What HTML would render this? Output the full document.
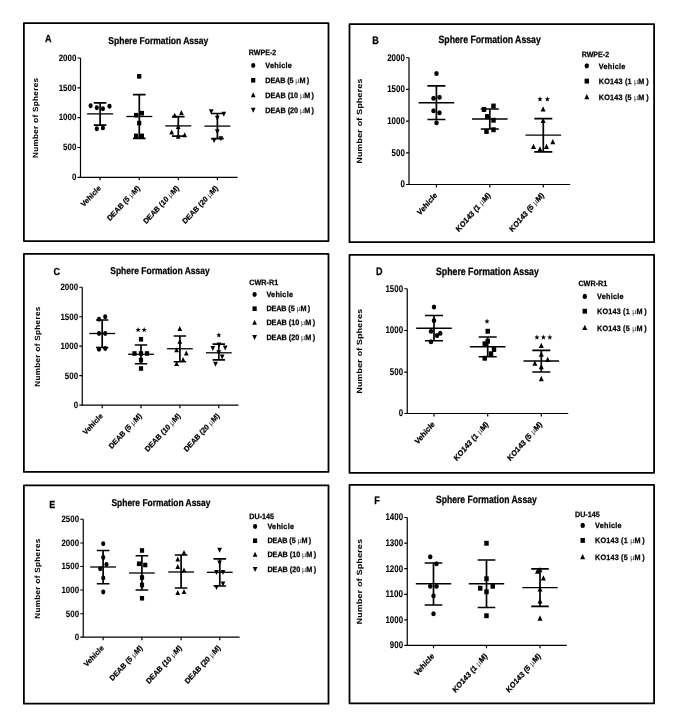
<!DOCTYPE html>
<html><head><meta charset="utf-8"><title>Sphere Formation Assay</title>
<style>
html,body{margin:0;padding:0;background:#fff;}
body{width:685px;height:726px;overflow:hidden;}
svg{display:block;font-family:"Liberation Sans", sans-serif;text-rendering:geometricPrecision;filter:grayscale(1);}
text{stroke:#000;stroke-width:0.25px;}
text.n{stroke-width:0.08px;}
text.y{stroke-width:0.05px;}
.mu{stroke-width:0;fill:#333;}
</style></head>
<body>
<svg width="685" height="726" viewBox="0 0 685 726" fill="#000">
<rect width="685" height="726" fill="#fff"/>
<rect x="23.9" y="23.1" width="304.6" height="218" fill="none" stroke="#000" stroke-width="1.8" stroke-linejoin="round"/>
<text transform="translate(45 42.4) scale(0.89 1)" font-size="10.2" font-weight="bold">A</text>
<text transform="translate(108.3 43.7) scale(0.93 1)" font-size="9.9" font-weight="bold" textLength="107.53" lengthAdjust="spacingAndGlyphs">Sphere Formation Assay</text>
<text class="y" transform="translate(37.8 118) scale(0.93 1) rotate(-90)" font-size="8.1" font-weight="bold" text-anchor="middle" textLength="80" lengthAdjust="spacing">Number of Spheres</text>
<path d="M80.5 58V177.3H237.5" fill="none" stroke="#000" stroke-width="1.2"/>
<text class="n" transform="translate(76.3 60.8) scale(0.93 1)" font-size="9.2" font-weight="bold" text-anchor="end" textLength="18.92" lengthAdjust="spacingAndGlyphs">2000</text>
<text class="n" transform="translate(76.3 90.6) scale(0.93 1)" font-size="9.2" font-weight="bold" text-anchor="end" textLength="18.92" lengthAdjust="spacingAndGlyphs">1500</text>
<text class="n" transform="translate(76.3 120.4) scale(0.93 1)" font-size="9.2" font-weight="bold" text-anchor="end" textLength="18.92" lengthAdjust="spacingAndGlyphs">1000</text>
<text class="n" transform="translate(76.3 150.3) scale(0.93 1)" font-size="9.2" font-weight="bold" text-anchor="end" textLength="14.19" lengthAdjust="spacingAndGlyphs">500</text>
<text class="n" transform="translate(76.3 180.1) scale(0.93 1)" font-size="9.2" font-weight="bold" text-anchor="end" textLength="4.73" lengthAdjust="spacingAndGlyphs">0</text>
<path d="M77.5 58H80.5M77.5 87.8H80.5M77.5 117.6H80.5M77.5 147.5H80.5M77.5 177.3H80.5M100.1 177.3V180.3M139.3 177.3V180.3M178.3 177.3V180.3M217.4 177.3V180.3" fill="none" stroke="#000" stroke-width="1.2"/>
<text transform="translate(101.2 188.6) scale(0.93 1) rotate(-45)" font-size="7.7" font-weight="bold" text-anchor="end">Vehicle</text>
<text transform="translate(140.4 188.6) scale(0.93 1) rotate(-45)" font-size="7.7" font-weight="bold" text-anchor="end">DEAB (5 <tspan font-weight="normal" class="mu">µ</tspan>M)</text>
<text transform="translate(179.4 188.6) scale(0.93 1) rotate(-45)" font-size="7.7" font-weight="bold" text-anchor="end">DEAB (10 <tspan font-weight="normal" class="mu">µ</tspan>M)</text>
<text transform="translate(218.5 188.6) scale(0.93 1) rotate(-45)" font-size="7.7" font-weight="bold" text-anchor="end">DEAB (20 <tspan font-weight="normal" class="mu">µ</tspan>M)</text>
<path d="M87.1 113.9H113.1" stroke="#000" stroke-width="1.3" fill="none"/>
<path d="M93.8 102.9H106.4M93.8 125.1H106.4M100.1 102.9V125.1" stroke="#000" stroke-width="1.7" fill="none"/>
<ellipse cx="90.6" cy="105.7" rx="2.1" ry="2.45"/>
<ellipse cx="96.8" cy="107.8" rx="2.1" ry="2.45"/>
<ellipse cx="102.9" cy="108.8" rx="2.1" ry="2.45"/>
<ellipse cx="109.5" cy="106.2" rx="2.1" ry="2.45"/>
<ellipse cx="96.8" cy="128.7" rx="2.1" ry="2.45"/>
<ellipse cx="102.9" cy="127.9" rx="2.1" ry="2.45"/>
<path d="M126.3 116.5H152.3" stroke="#000" stroke-width="1.3" fill="none"/>
<path d="M133 94.7H145.6M133 138.4H145.6M139.3 94.7V138.4" stroke="#000" stroke-width="1.7" fill="none"/>
<rect x="137.1" y="74" width="4.2" height="4.6"/>
<rect x="134" y="112.9" width="4.2" height="4.6"/>
<rect x="139.8" y="110.9" width="4.2" height="4.6"/>
<rect x="137.1" y="120.8" width="4.2" height="4.6"/>
<rect x="134" y="133.6" width="4.2" height="4.6"/>
<rect x="139.8" y="133.6" width="4.2" height="4.6"/>
<path d="M165.3 125.9H191.3" stroke="#000" stroke-width="1.3" fill="none"/>
<path d="M172 116.7H184.6M172 136.2H184.6M178.3 116.7V136.2" stroke="#000" stroke-width="1.7" fill="none"/>
<path d="M174.7 112.8L177.05 117.8L172.35 117.8Z"/>
<path d="M181.4 110.1L183.75 115.1L179.05 115.1Z"/>
<path d="M178.2 123.9L180.55 128.9L175.85 128.9Z"/>
<path d="M171.7 129.5L174.05 134.5L169.35 134.5Z"/>
<path d="M184.7 132.2L187.05 137.2L182.35 137.2Z"/>
<path d="M178.2 133.8L180.55 138.8L175.85 138.8Z"/>
<path d="M204.4 126.1H230.4" stroke="#000" stroke-width="1.3" fill="none"/>
<path d="M211.1 113.5H223.7M211.1 138.7H223.7M217.4 113.5V138.7" stroke="#000" stroke-width="1.7" fill="none"/>
<path d="M211.2 114.2L213.55 109.2L208.85 109.2Z"/>
<path d="M223.8 116.7L226.15 111.7L221.45 111.7Z"/>
<path d="M217.3 120.7L219.65 115.7L214.95 115.7Z"/>
<path d="M217.3 134.2L219.65 129.2L214.95 129.2Z"/>
<path d="M214.1 143.1L216.45 138.1L211.75 138.1Z"/>
<path d="M220.9 141.3L223.25 136.3L218.55 136.3Z"/>
<text transform="translate(248.8 55.4) scale(0.93 1)" font-size="7.7" font-weight="bold" textLength="29.46" lengthAdjust="spacingAndGlyphs">RWPE-2</text>
<ellipse cx="253.2" cy="65.5" rx="2.1" ry="2.45"/>
<text transform="translate(265.3 68.2) scale(0.93 1)" font-size="7.8" font-weight="bold" textLength="28.6" lengthAdjust="spacing">Vehicle</text>
<rect x="251.1" y="78" width="4.2" height="4.6"/>
<text transform="translate(265.3 83) scale(0.93 1)" font-size="7.8" font-weight="bold" textLength="47.1" lengthAdjust="spacing">DEAB (5 <tspan font-weight="normal" class="mu">µ</tspan>M )</text>
<path d="M253.2 92.2L255.55 97.2L250.85 97.2Z"/>
<text transform="translate(265.3 97.8) scale(0.93 1)" font-size="7.8" font-weight="bold" textLength="52.37" lengthAdjust="spacing">DEAB (10 <tspan font-weight="normal" class="mu">µ</tspan>M )</text>
<path d="M253.2 112.7L255.55 107.7L250.85 107.7Z"/>
<text transform="translate(265.3 112.5) scale(0.93 1)" font-size="7.8" font-weight="bold" textLength="52.37" lengthAdjust="spacing">DEAB (20 <tspan font-weight="normal" class="mu">µ</tspan>M )</text>
<rect x="349.5" y="24.2" width="304.6" height="218" fill="none" stroke="#000" stroke-width="1.8" stroke-linejoin="round"/>
<text transform="translate(372.15 44) scale(0.89 1.06)" font-size="10.2" font-weight="bold">B</text>
<text transform="translate(438.5 42.75) scale(0.93 1.06)" font-size="9.9" font-weight="bold" textLength="110" lengthAdjust="spacingAndGlyphs">Sphere Formation Assay</text>
<text class="y" transform="translate(361.9 121.1) scale(0.93 1.06) rotate(-90)" font-size="8.1" font-weight="bold" text-anchor="middle" textLength="80.19" lengthAdjust="spacing">Number of Spheres</text>
<path d="M409 57.75V184.5H570.2" fill="none" stroke="#000" stroke-width="1.2"/>
<text class="n" transform="translate(404.8 60.73) scale(0.93 1.06)" font-size="9.2" font-weight="bold" text-anchor="end" textLength="18.92" lengthAdjust="spacingAndGlyphs">2000</text>
<text class="n" transform="translate(404.8 92.38) scale(0.93 1.06)" font-size="9.2" font-weight="bold" text-anchor="end" textLength="18.92" lengthAdjust="spacingAndGlyphs">1500</text>
<text class="n" transform="translate(404.8 124.08) scale(0.93 1.06)" font-size="9.2" font-weight="bold" text-anchor="end" textLength="18.92" lengthAdjust="spacingAndGlyphs">1000</text>
<text class="n" transform="translate(404.8 155.78) scale(0.93 1.06)" font-size="9.2" font-weight="bold" text-anchor="end" textLength="14.19" lengthAdjust="spacingAndGlyphs">500</text>
<text class="n" transform="translate(404.8 187.48) scale(0.93 1.06)" font-size="9.2" font-weight="bold" text-anchor="end" textLength="4.73" lengthAdjust="spacingAndGlyphs">0</text>
<path d="M406 57.75H409M406 89.4H409M406 121.1H409M406 152.8H409M406 184.5H409M436.4 184.5V187.5M489.8 184.5V187.5M543.3 184.5V187.5" fill="none" stroke="#000" stroke-width="1.2"/>
<text transform="translate(437.5 195.8) scale(0.93 1.06) rotate(-45)" font-size="7.7" font-weight="bold" text-anchor="end">Vehicle</text>
<text transform="translate(490.9 195.8) scale(0.93 1.06) rotate(-45)" font-size="7.7" font-weight="bold" text-anchor="end">KO143 (1 <tspan font-weight="normal" class="mu">µ</tspan>M)</text>
<text transform="translate(544.4 195.8) scale(0.93 1.06) rotate(-45)" font-size="7.7" font-weight="bold" text-anchor="end">KO143 (5 <tspan font-weight="normal" class="mu">µ</tspan>M)</text>
<path d="M418.6 102.75H454.2" stroke="#000" stroke-width="1.3" fill="none"/>
<path d="M427.4 85.9H445.4M427.4 119.5H445.4M436.4 85.9V119.5" stroke="#000" stroke-width="1.7" fill="none"/>
<ellipse cx="436.5" cy="73.5" rx="2.23" ry="2.6"/>
<ellipse cx="433.5" cy="98.25" rx="2.23" ry="2.6"/>
<ellipse cx="439.5" cy="97.25" rx="2.23" ry="2.6"/>
<ellipse cx="433.5" cy="110.75" rx="2.23" ry="2.6"/>
<ellipse cx="439.5" cy="112.75" rx="2.23" ry="2.6"/>
<ellipse cx="436.5" cy="122.75" rx="2.23" ry="2.6"/>
<path d="M472 119H507.6" stroke="#000" stroke-width="1.3" fill="none"/>
<path d="M480.8 109H498.8M480.8 129H498.8M489.8 109V129" stroke="#000" stroke-width="1.7" fill="none"/>
<rect x="481.77" y="107.06" width="4.45" height="4.88"/>
<rect x="491.27" y="103.56" width="4.45" height="4.88"/>
<rect x="485.02" y="114.06" width="4.45" height="4.88"/>
<rect x="491.27" y="117.81" width="4.45" height="4.88"/>
<rect x="484.27" y="129.06" width="4.45" height="4.88"/>
<rect x="491.27" y="127.31" width="4.45" height="4.88"/>
<path d="M525.5 135.1H561.1" stroke="#000" stroke-width="1.3" fill="none"/>
<path d="M534.3 118.6H552.3M534.3 151.8H552.3M543.3 118.6V151.8" stroke="#000" stroke-width="1.7" fill="none"/>
<path d="M543.1 106.23L545.59 111.53L540.61 111.53Z"/>
<path d="M543.1 117.73L545.59 123.03L540.61 123.03Z"/>
<path d="M533.5 143.73L535.99 149.03L531.01 149.03Z"/>
<path d="M540 146.13L542.49 151.43L537.51 151.43Z"/>
<path d="M546.5 143.73L548.99 149.03L544.01 149.03Z"/>
<path d="M552.8 138.93L555.29 144.23L550.31 144.23Z"/>
<polygon points="540,96.31 540.68,98.22 542.62,98.31 541.1,99.57 541.62,101.54 540,100.41 538.38,101.54 538.9,99.57 537.38,98.31 539.32,98.22"/>
<polygon points="547.4,96.31 548.08,98.22 550.02,98.31 548.5,99.57 549.02,101.54 547.4,100.41 545.78,101.54 546.3,99.57 544.78,98.31 546.72,98.22"/>
<text transform="translate(581.7 57.2) scale(0.93 1)" font-size="7.7" font-weight="bold" textLength="29.46" lengthAdjust="spacingAndGlyphs">RWPE-2</text>
<ellipse cx="586.8" cy="65.8" rx="2.23" ry="2.6"/>
<text transform="translate(598.8 68.5) scale(0.93 1)" font-size="7.8" font-weight="bold" textLength="28.6" lengthAdjust="spacing">Vehicle</text>
<rect x="584.57" y="78.66" width="4.45" height="4.88"/>
<text transform="translate(598.8 83.8) scale(0.93 1)" font-size="7.8" font-weight="bold" textLength="53.55" lengthAdjust="spacing">KO143 (1 <tspan font-weight="normal" class="mu">µ</tspan>M )</text>
<path d="M586.8 94.03L589.29 99.33L584.31 99.33Z"/>
<text transform="translate(598.8 99.8) scale(0.93 1)" font-size="7.8" font-weight="bold" textLength="53.55" lengthAdjust="spacing">KO143 (5 <tspan font-weight="normal" class="mu">µ</tspan>M )</text>
<rect x="23.9" y="253.9" width="304.6" height="218" fill="none" stroke="#000" stroke-width="1.8" stroke-linejoin="round"/>
<text transform="translate(53.4 275) scale(0.89 1)" font-size="10.2" font-weight="bold">C</text>
<text transform="translate(110.25 273.75) scale(0.93 1)" font-size="9.9" font-weight="bold" textLength="106.88" lengthAdjust="spacingAndGlyphs">Sphere Formation Assay</text>
<text class="y" transform="translate(40 346.75) scale(0.93 1) rotate(-90)" font-size="8.1" font-weight="bold" text-anchor="middle" textLength="80" lengthAdjust="spacing">Number of Spheres</text>
<path d="M82.25 287.25V405.2H238.4" fill="none" stroke="#000" stroke-width="1.2"/>
<text class="n" transform="translate(78.05 290.05) scale(0.93 1)" font-size="9.2" font-weight="bold" text-anchor="end" textLength="18.92" lengthAdjust="spacingAndGlyphs">2000</text>
<text class="n" transform="translate(78.05 319.55) scale(0.93 1)" font-size="9.2" font-weight="bold" text-anchor="end" textLength="18.92" lengthAdjust="spacingAndGlyphs">1500</text>
<text class="n" transform="translate(78.05 349) scale(0.93 1)" font-size="9.2" font-weight="bold" text-anchor="end" textLength="18.92" lengthAdjust="spacingAndGlyphs">1000</text>
<text class="n" transform="translate(78.05 378.5) scale(0.93 1)" font-size="9.2" font-weight="bold" text-anchor="end" textLength="14.19" lengthAdjust="spacingAndGlyphs">500</text>
<text class="n" transform="translate(78.05 408) scale(0.93 1)" font-size="9.2" font-weight="bold" text-anchor="end" textLength="4.73" lengthAdjust="spacingAndGlyphs">0</text>
<path d="M79.25 287.25H82.25M79.25 316.75H82.25M79.25 346.2H82.25M79.25 375.7H82.25M79.25 405.2H82.25M102.2 405.2V408.2M141 405.2V408.2M179.9 405.2V408.2M218.8 405.2V408.2" fill="none" stroke="#000" stroke-width="1.2"/>
<text transform="translate(103.3 416.5) scale(0.93 1) rotate(-45)" font-size="7.7" font-weight="bold" text-anchor="end">Vehicle</text>
<text transform="translate(142.1 416.5) scale(0.93 1) rotate(-45)" font-size="7.7" font-weight="bold" text-anchor="end">DEAB (5 <tspan font-weight="normal" class="mu">µ</tspan>M)</text>
<text transform="translate(181 416.5) scale(0.93 1) rotate(-45)" font-size="7.7" font-weight="bold" text-anchor="end">DEAB (10 <tspan font-weight="normal" class="mu">µ</tspan>M)</text>
<text transform="translate(219.9 416.5) scale(0.93 1) rotate(-45)" font-size="7.7" font-weight="bold" text-anchor="end">DEAB (20 <tspan font-weight="normal" class="mu">µ</tspan>M)</text>
<path d="M89.3 333.5H115.1" stroke="#000" stroke-width="1.3" fill="none"/>
<path d="M96 320H108.4M96 347.5H108.4M102.2 320V347.5" stroke="#000" stroke-width="1.7" fill="none"/>
<ellipse cx="99" cy="319.25" rx="2.1" ry="2.45"/>
<ellipse cx="105.25" cy="316.75" rx="2.1" ry="2.45"/>
<ellipse cx="99" cy="333.5" rx="2.1" ry="2.45"/>
<ellipse cx="105.25" cy="333.5" rx="2.1" ry="2.45"/>
<ellipse cx="99" cy="349.25" rx="2.1" ry="2.45"/>
<ellipse cx="105.25" cy="348.5" rx="2.1" ry="2.45"/>
<path d="M128.1 354.25H153.9" stroke="#000" stroke-width="1.3" fill="none"/>
<path d="M134.8 345H147.2M134.8 363.75H147.2M141 345V363.75" stroke="#000" stroke-width="1.7" fill="none"/>
<rect x="138.9" y="336.95" width="4.2" height="4.6"/>
<rect x="132.4" y="351.2" width="4.2" height="4.6"/>
<rect x="138.9" y="351.2" width="4.2" height="4.6"/>
<rect x="144.9" y="351.2" width="4.2" height="4.6"/>
<rect x="138.9" y="357.7" width="4.2" height="4.6"/>
<rect x="138.9" y="366.2" width="4.2" height="4.6"/>
<polygon points="138.1,327.01 138.78,328.92 140.72,329.01 139.2,330.27 139.72,332.24 138.1,331.11 136.48,332.24 137,330.27 135.48,329.01 137.42,328.92"/>
<polygon points="144.2,327.01 144.88,328.92 146.82,329.01 145.3,330.27 145.82,332.24 144.2,331.11 142.58,332.24 143.1,330.27 141.58,329.01 143.52,328.92"/>
<path d="M167 348.75H192.8" stroke="#000" stroke-width="1.3" fill="none"/>
<path d="M173.7 336H186.1M173.7 361.75H186.1M179.9 336V361.75" stroke="#000" stroke-width="1.7" fill="none"/>
<path d="M179.8 326L182.15 331L177.45 331Z"/>
<path d="M179.8 338.7L182.15 343.7L177.45 343.7Z"/>
<path d="M176.6 347.3L178.95 352.3L174.25 352.3Z"/>
<path d="M186.3 350.6L188.65 355.6L183.95 355.6Z"/>
<path d="M183.1 356.9L185.45 361.9L180.75 361.9Z"/>
<path d="M176.6 360.9L178.95 365.9L174.25 365.9Z"/>
<path d="M205.9 352.8H231.7" stroke="#000" stroke-width="1.3" fill="none"/>
<path d="M212.6 344.2H225M212.6 359.9H225M218.8 344.2V359.9" stroke="#000" stroke-width="1.7" fill="none"/>
<path d="M212.8 350.9L215.15 345.9L210.45 345.9Z"/>
<path d="M225.2 350.4L227.55 345.4L222.85 345.4Z"/>
<path d="M219 347.4L221.35 342.4L216.65 342.4Z"/>
<path d="M218.7 355.3L221.05 350.3L216.35 350.3Z"/>
<path d="M222.2 359.6L224.55 354.6L219.85 354.6Z"/>
<path d="M215.5 366.7L217.85 361.7L213.15 361.7Z"/>
<polygon points="218.8,332.31 219.48,334.22 221.42,334.31 219.9,335.57 220.42,337.54 218.8,336.41 217.18,337.54 217.7,335.57 216.18,334.31 218.12,334.22"/>
<text transform="translate(249.3 285) scale(0.93 1)" font-size="7.7" font-weight="bold" textLength="31.08" lengthAdjust="spacingAndGlyphs">CWR-R1</text>
<ellipse cx="254.6" cy="294.5" rx="2.1" ry="2.45"/>
<text transform="translate(266.4 297.2) scale(0.93 1)" font-size="7.8" font-weight="bold" textLength="28.6" lengthAdjust="spacing">Vehicle</text>
<rect x="252.5" y="306.4" width="4.2" height="4.6"/>
<text transform="translate(266.4 311.4) scale(0.93 1)" font-size="7.8" font-weight="bold" textLength="47.1" lengthAdjust="spacing">DEAB (5 <tspan font-weight="normal" class="mu">µ</tspan>M )</text>
<path d="M254.6 319.7L256.95 324.7L252.25 324.7Z"/>
<text transform="translate(266.4 325.3) scale(0.93 1)" font-size="7.8" font-weight="bold" textLength="52.37" lengthAdjust="spacing">DEAB (10 <tspan font-weight="normal" class="mu">µ</tspan>M )</text>
<path d="M254.6 340L256.95 335L252.25 335Z"/>
<text transform="translate(266.4 339.8) scale(0.93 1)" font-size="7.8" font-weight="bold" textLength="52.37" lengthAdjust="spacing">DEAB (20 <tspan font-weight="normal" class="mu">µ</tspan>M )</text>
<rect x="349.5" y="254.9" width="304.6" height="217.9" fill="none" stroke="#000" stroke-width="1.8" stroke-linejoin="round"/>
<text transform="translate(375.9 274.5) scale(0.89 1.06)" font-size="10.2" font-weight="bold">D</text>
<text transform="translate(436 274.5) scale(0.93 1.06)" font-size="9.9" font-weight="bold" textLength="110.54" lengthAdjust="spacingAndGlyphs">Sphere Formation Assay</text>
<text class="y" transform="translate(362 351.25) scale(0.93 1.06) rotate(-90)" font-size="8.1" font-weight="bold" text-anchor="middle" textLength="79.81" lengthAdjust="spacing">Number of Spheres</text>
<path d="M407.25 288.75V413.5H568.2" fill="none" stroke="#000" stroke-width="1.2"/>
<text class="n" transform="translate(403.05 291.73) scale(0.93 1.06)" font-size="9.2" font-weight="bold" text-anchor="end" textLength="18.92" lengthAdjust="spacingAndGlyphs">1500</text>
<text class="n" transform="translate(403.05 333.48) scale(0.93 1.06)" font-size="9.2" font-weight="bold" text-anchor="end" textLength="18.92" lengthAdjust="spacingAndGlyphs">1000</text>
<text class="n" transform="translate(403.05 375.18) scale(0.93 1.06)" font-size="9.2" font-weight="bold" text-anchor="end" textLength="14.19" lengthAdjust="spacingAndGlyphs">500</text>
<text class="n" transform="translate(403.05 416.48) scale(0.93 1.06)" font-size="9.2" font-weight="bold" text-anchor="end" textLength="4.73" lengthAdjust="spacingAndGlyphs">0</text>
<path d="M404.25 288.75H407.25M404.25 330.5H407.25M404.25 372.2H407.25M404.25 413.5H407.25M434 413.5V416.5M487.7 413.5V416.5M541.3 413.5V416.5" fill="none" stroke="#000" stroke-width="1.2"/>
<text transform="translate(435.1 424.8) scale(0.93 1.06) rotate(-45)" font-size="7.7" font-weight="bold" text-anchor="end">Vehicle</text>
<text transform="translate(488.8 424.8) scale(0.93 1.06) rotate(-45)" font-size="7.7" font-weight="bold" text-anchor="end">KO143 (1 <tspan font-weight="normal" class="mu">µ</tspan>M)</text>
<text transform="translate(542.4 424.8) scale(0.93 1.06) rotate(-45)" font-size="7.7" font-weight="bold" text-anchor="end">KO143 (5 <tspan font-weight="normal" class="mu">µ</tspan>M)</text>
<path d="M416.2 328.25H451.8" stroke="#000" stroke-width="1.3" fill="none"/>
<path d="M425 315.5H443M425 340.75H443M434 315.5V340.75" stroke="#000" stroke-width="1.7" fill="none"/>
<ellipse cx="434" cy="307" rx="2.23" ry="2.6"/>
<ellipse cx="434" cy="320.5" rx="2.23" ry="2.6"/>
<ellipse cx="431" cy="331.25" rx="2.23" ry="2.6"/>
<ellipse cx="440.25" cy="333.25" rx="2.23" ry="2.6"/>
<ellipse cx="437" cy="335.5" rx="2.23" ry="2.6"/>
<ellipse cx="431" cy="341.75" rx="2.23" ry="2.6"/>
<path d="M469.9 346.75H505.5" stroke="#000" stroke-width="1.3" fill="none"/>
<path d="M478.7 337H496.7M478.7 356.75H496.7M487.7 337V356.75" stroke="#000" stroke-width="1.7" fill="none"/>
<rect x="485.52" y="328.81" width="4.45" height="4.88"/>
<rect x="482.52" y="341.31" width="4.45" height="4.88"/>
<rect x="485.52" y="338.81" width="4.45" height="4.88"/>
<rect x="491.77" y="347.06" width="4.45" height="4.88"/>
<rect x="488.77" y="351.31" width="4.45" height="4.88"/>
<rect x="482.52" y="355.81" width="4.45" height="4.88"/>
<polygon points="487,318.51 487.68,320.42 489.62,320.51 488.1,321.77 488.62,323.74 487,322.61 485.38,323.74 485.9,321.77 484.38,320.51 486.32,320.42"/>
<path d="M523.5 361H559.1" stroke="#000" stroke-width="1.3" fill="none"/>
<path d="M532.3 350.3H550.3M532.3 372H550.3M541.3 350.3V372" stroke="#000" stroke-width="1.7" fill="none"/>
<path d="M541.3 342.63L543.79 347.93L538.81 347.93Z"/>
<path d="M541.3 351.53L543.79 356.83L538.81 356.83Z"/>
<path d="M547.7 356.73L550.19 362.03L545.21 362.03Z"/>
<path d="M534.9 360.53L537.39 365.83L532.41 365.83Z"/>
<path d="M541.3 363.83L543.79 369.13L538.81 369.13Z"/>
<path d="M541.3 375.83L543.79 381.13L538.81 381.13Z"/>
<polygon points="536.95,334.51 537.63,336.42 539.57,336.51 538.05,337.77 538.57,339.74 536.95,338.61 535.33,339.74 535.85,337.77 534.33,336.51 536.27,336.42"/>
<polygon points="543.4,334.51 544.08,336.42 546.02,336.51 544.5,337.77 545.02,339.74 543.4,338.61 541.78,339.74 542.3,337.77 540.78,336.51 542.72,336.42"/>
<polygon points="549.85,334.51 550.53,336.42 552.47,336.51 550.95,337.77 551.47,339.74 549.85,338.61 548.23,339.74 548.75,337.77 547.23,336.51 549.17,336.42"/>
<text transform="translate(578.4 285.7) scale(0.93 1)" font-size="7.7" font-weight="bold" textLength="31.08" lengthAdjust="spacingAndGlyphs">CWR-R1</text>
<ellipse cx="584.8" cy="296.4" rx="2.23" ry="2.6"/>
<text transform="translate(597 299.1) scale(0.93 1)" font-size="7.8" font-weight="bold" textLength="28.6" lengthAdjust="spacing">Vehicle</text>
<rect x="582.57" y="308.76" width="4.45" height="4.88"/>
<text transform="translate(597 313.9) scale(0.93 1)" font-size="7.8" font-weight="bold" textLength="53.55" lengthAdjust="spacing">KO143 (1 <tspan font-weight="normal" class="mu">µ</tspan>M )</text>
<path d="M584.8 324.73L587.29 330.03L582.31 330.03Z"/>
<text transform="translate(597 330.5) scale(0.93 1)" font-size="7.8" font-weight="bold" textLength="53.55" lengthAdjust="spacing">KO143 (5 <tspan font-weight="normal" class="mu">µ</tspan>M )</text>
<rect x="23.9" y="485.4" width="304.6" height="218.3" fill="none" stroke="#000" stroke-width="1.8" stroke-linejoin="round"/>
<text transform="translate(49.15 507.5) scale(0.89 1)" font-size="10.2" font-weight="bold">E</text>
<text transform="translate(111.5 505.5) scale(0.93 1)" font-size="9.9" font-weight="bold" textLength="106.34" lengthAdjust="spacingAndGlyphs">Sphere Formation Assay</text>
<text class="y" transform="translate(40.25 578.75) scale(0.93 1) rotate(-90)" font-size="8.1" font-weight="bold" text-anchor="middle" textLength="80" lengthAdjust="spacing">Number of Spheres</text>
<path d="M83.25 519.25V637.2H239.6" fill="none" stroke="#000" stroke-width="1.2"/>
<text class="n" transform="translate(79.05 522.05) scale(0.93 1)" font-size="9.2" font-weight="bold" text-anchor="end" textLength="18.92" lengthAdjust="spacingAndGlyphs">2500</text>
<text class="n" transform="translate(79.05 545.8) scale(0.93 1)" font-size="9.2" font-weight="bold" text-anchor="end" textLength="18.92" lengthAdjust="spacingAndGlyphs">2000</text>
<text class="n" transform="translate(79.05 569.3) scale(0.93 1)" font-size="9.2" font-weight="bold" text-anchor="end" textLength="18.92" lengthAdjust="spacingAndGlyphs">1500</text>
<text class="n" transform="translate(79.05 592.8) scale(0.93 1)" font-size="9.2" font-weight="bold" text-anchor="end" textLength="18.92" lengthAdjust="spacingAndGlyphs">1000</text>
<text class="n" transform="translate(79.05 616.55) scale(0.93 1)" font-size="9.2" font-weight="bold" text-anchor="end" textLength="14.19" lengthAdjust="spacingAndGlyphs">500</text>
<text class="n" transform="translate(79.05 640) scale(0.93 1)" font-size="9.2" font-weight="bold" text-anchor="end" textLength="4.73" lengthAdjust="spacingAndGlyphs">0</text>
<path d="M80.25 519.25H83.25M80.25 543H83.25M80.25 566.5H83.25M80.25 590H83.25M80.25 613.75H83.25M80.25 637.2H83.25M103.1 637.2V640.2M141.9 637.2V640.2M181.1 637.2V640.2M219.8 637.2V640.2" fill="none" stroke="#000" stroke-width="1.2"/>
<text transform="translate(104.2 648.5) scale(0.93 1) rotate(-45)" font-size="7.7" font-weight="bold" text-anchor="end">Vehicle</text>
<text transform="translate(143 648.5) scale(0.93 1) rotate(-45)" font-size="7.7" font-weight="bold" text-anchor="end">DEAB (5 <tspan font-weight="normal" class="mu">µ</tspan>M)</text>
<text transform="translate(182.2 648.5) scale(0.93 1) rotate(-45)" font-size="7.7" font-weight="bold" text-anchor="end">DEAB (10 <tspan font-weight="normal" class="mu">µ</tspan>M)</text>
<text transform="translate(220.9 648.5) scale(0.93 1) rotate(-45)" font-size="7.7" font-weight="bold" text-anchor="end">DEAB (20 <tspan font-weight="normal" class="mu">µ</tspan>M)</text>
<path d="M90.2 567H116" stroke="#000" stroke-width="1.3" fill="none"/>
<path d="M96.8 550.5H109.4M96.8 583.75H109.4M103.1 550.5V583.75" stroke="#000" stroke-width="1.7" fill="none"/>
<ellipse cx="103.25" cy="543.75" rx="2.1" ry="2.45"/>
<ellipse cx="103.25" cy="557.5" rx="2.1" ry="2.45"/>
<ellipse cx="106.5" cy="564.5" rx="2.1" ry="2.45"/>
<ellipse cx="100.25" cy="568.75" rx="2.1" ry="2.45"/>
<ellipse cx="103.25" cy="578" rx="2.1" ry="2.45"/>
<ellipse cx="103.25" cy="592" rx="2.1" ry="2.45"/>
<path d="M129 573H154.8" stroke="#000" stroke-width="1.3" fill="none"/>
<path d="M135.6 555.75H148.2M135.6 590H148.2M141.9 555.75V590" stroke="#000" stroke-width="1.7" fill="none"/>
<rect x="139.9" y="548.2" width="4.2" height="4.6"/>
<rect x="136.9" y="561.45" width="4.2" height="4.6"/>
<rect x="143.15" y="562.7" width="4.2" height="4.6"/>
<rect x="139.9" y="575.2" width="4.2" height="4.6"/>
<rect x="139.9" y="582.7" width="4.2" height="4.6"/>
<rect x="139.9" y="595.95" width="4.2" height="4.6"/>
<path d="M168.2 572H194" stroke="#000" stroke-width="1.3" fill="none"/>
<path d="M174.8 555H187.4M174.8 588H187.4M181.1 555V588" stroke="#000" stroke-width="1.7" fill="none"/>
<path d="M184 550.1L186.35 555.1L181.65 555.1Z"/>
<path d="M177.75 556.6L180.1 561.6L175.4 561.6Z"/>
<path d="M177.75 564.1L180.1 569.1L175.4 569.1Z"/>
<path d="M184 567.6L186.35 572.6L181.65 572.6Z"/>
<path d="M177.75 590.1L180.1 595.1L175.4 595.1Z"/>
<path d="M184 589.1L186.35 594.1L181.65 594.1Z"/>
<path d="M206.9 572.3H232.7" stroke="#000" stroke-width="1.3" fill="none"/>
<path d="M213.5 558.8H226.1M213.5 586H226.1M219.8 558.8V586" stroke="#000" stroke-width="1.7" fill="none"/>
<path d="M219.6 552.8L221.95 547.8L217.25 547.8Z"/>
<path d="M219.6 565.4L221.95 560.4L217.25 560.4Z"/>
<path d="M216.5 575.1L218.85 570.1L214.15 570.1Z"/>
<path d="M223 575.1L225.35 570.1L220.65 570.1Z"/>
<path d="M223 586.4L225.35 581.4L220.65 581.4Z"/>
<path d="M216.5 589.9L218.85 584.9L214.15 584.9Z"/>
<text transform="translate(249.3 518.6) scale(0.93 1)" font-size="7.7" font-weight="bold" textLength="26.56" lengthAdjust="spacingAndGlyphs">DU-145</text>
<ellipse cx="255.1" cy="526.5" rx="2.1" ry="2.45"/>
<text transform="translate(267.4 529.2) scale(0.93 1)" font-size="7.8" font-weight="bold" textLength="28.6" lengthAdjust="spacing">Vehicle</text>
<rect x="253" y="538.4" width="4.2" height="4.6"/>
<text transform="translate(267.4 543.4) scale(0.93 1)" font-size="7.8" font-weight="bold" textLength="47.1" lengthAdjust="spacing">DEAB (5 <tspan font-weight="normal" class="mu">µ</tspan>M )</text>
<path d="M255.1 551.7L257.45 556.7L252.75 556.7Z"/>
<text transform="translate(267.4 557.3) scale(0.93 1)" font-size="7.8" font-weight="bold" textLength="52.37" lengthAdjust="spacing">DEAB (10 <tspan font-weight="normal" class="mu">µ</tspan>M )</text>
<path d="M255.1 572L257.45 567L252.75 567Z"/>
<text transform="translate(267.4 571.8) scale(0.93 1)" font-size="7.8" font-weight="bold" textLength="52.37" lengthAdjust="spacing">DEAB (20 <tspan font-weight="normal" class="mu">µ</tspan>M )</text>
<rect x="349.5" y="484.9" width="304.6" height="218.5" fill="none" stroke="#000" stroke-width="1.8" stroke-linejoin="round"/>
<text transform="translate(374.15 503.75) scale(0.89 1.06)" font-size="10.2" font-weight="bold">F</text>
<text transform="translate(436 502.5) scale(0.93 1.06)" font-size="9.9" font-weight="bold" textLength="108.28" lengthAdjust="spacingAndGlyphs">Sphere Formation Assay</text>
<text class="y" transform="translate(362 581.6) scale(0.93 1.06) rotate(-90)" font-size="8.1" font-weight="bold" text-anchor="middle" textLength="80.47" lengthAdjust="spacing">Number of Spheres</text>
<path d="M407.25 517.5V645.3H566.8" fill="none" stroke="#000" stroke-width="1.2"/>
<text class="n" transform="translate(403.05 520.48) scale(0.93 1.06)" font-size="9.2" font-weight="bold" text-anchor="end" textLength="18.92" lengthAdjust="spacingAndGlyphs">1400</text>
<text class="n" transform="translate(403.05 546.08) scale(0.93 1.06)" font-size="9.2" font-weight="bold" text-anchor="end" textLength="18.92" lengthAdjust="spacingAndGlyphs">1300</text>
<text class="n" transform="translate(403.05 571.68) scale(0.93 1.06)" font-size="9.2" font-weight="bold" text-anchor="end" textLength="18.92" lengthAdjust="spacingAndGlyphs">1200</text>
<text class="n" transform="translate(403.05 597.28) scale(0.93 1.06)" font-size="9.2" font-weight="bold" text-anchor="end" textLength="18.92" lengthAdjust="spacingAndGlyphs">1100</text>
<text class="n" transform="translate(403.05 622.88) scale(0.93 1.06)" font-size="9.2" font-weight="bold" text-anchor="end" textLength="18.92" lengthAdjust="spacingAndGlyphs">1000</text>
<text class="n" transform="translate(403.05 648.28) scale(0.93 1.06)" font-size="9.2" font-weight="bold" text-anchor="end" textLength="14.19" lengthAdjust="spacingAndGlyphs">900</text>
<path d="M404.25 517.5H407.25M404.25 543.1H407.25M404.25 568.7H407.25M404.25 594.3H407.25M404.25 619.9H407.25M404.25 645.3H407.25M433.5 645.3V648.3M486.5 645.3V648.3M540 645.3V648.3" fill="none" stroke="#000" stroke-width="1.2"/>
<text transform="translate(434.6 656.6) scale(0.93 1.06) rotate(-45)" font-size="7.7" font-weight="bold" text-anchor="end">Vehicle</text>
<text transform="translate(487.6 656.6) scale(0.93 1.06) rotate(-45)" font-size="7.7" font-weight="bold" text-anchor="end">KO143 (1 <tspan font-weight="normal" class="mu">µ</tspan>M)</text>
<text transform="translate(541.1 656.6) scale(0.93 1.06) rotate(-45)" font-size="7.7" font-weight="bold" text-anchor="end">KO143 (5 <tspan font-weight="normal" class="mu">µ</tspan>M)</text>
<path d="M415.8 583.75H451.2" stroke="#000" stroke-width="1.3" fill="none"/>
<path d="M424.7 563H442.3M424.7 605H442.3M433.5 563V605" stroke="#000" stroke-width="1.7" fill="none"/>
<ellipse cx="430.25" cy="556.75" rx="2.23" ry="2.6"/>
<ellipse cx="436.5" cy="563.75" rx="2.23" ry="2.6"/>
<ellipse cx="430.25" cy="586.25" rx="2.23" ry="2.6"/>
<ellipse cx="436.5" cy="586.25" rx="2.23" ry="2.6"/>
<ellipse cx="433.5" cy="595.75" rx="2.23" ry="2.6"/>
<ellipse cx="433.5" cy="613.75" rx="2.23" ry="2.6"/>
<path d="M468.8 583.75H504.2" stroke="#000" stroke-width="1.3" fill="none"/>
<path d="M477.7 560H495.3M477.7 607.5H495.3M486.5 560V607.5" stroke="#000" stroke-width="1.7" fill="none"/>
<rect x="484.27" y="540.81" width="4.45" height="4.88"/>
<rect x="484.27" y="576.31" width="4.45" height="4.88"/>
<rect x="478.02" y="585.81" width="4.45" height="4.88"/>
<rect x="490.52" y="583.81" width="4.45" height="4.88"/>
<rect x="484.27" y="589.31" width="4.45" height="4.88"/>
<rect x="484.27" y="613.31" width="4.45" height="4.88"/>
<path d="M522.3 587.7H557.7" stroke="#000" stroke-width="1.3" fill="none"/>
<path d="M531.2 568.8H548.8M531.2 606.4H548.8M540 568.8V606.4" stroke="#000" stroke-width="1.7" fill="none"/>
<path d="M537.5 568.33L539.99 573.63L535.01 573.63Z"/>
<path d="M540 566.93L542.49 572.23L537.51 572.23Z"/>
<path d="M543.4 575.23L545.89 580.53L540.91 580.53Z"/>
<path d="M540 586.13L542.49 591.43L537.51 591.43Z"/>
<path d="M540 598.13L542.49 603.43L537.51 603.43Z"/>
<path d="M540 615.33L542.49 620.63L537.51 620.63Z"/>
<text transform="translate(575 517.4) scale(0.93 1)" font-size="7.7" font-weight="bold" textLength="26.56" lengthAdjust="spacingAndGlyphs">DU-145</text>
<ellipse cx="582.7" cy="525.4" rx="2.23" ry="2.6"/>
<text transform="translate(595 528.1) scale(0.93 1)" font-size="7.8" font-weight="bold" textLength="28.6" lengthAdjust="spacing">Vehicle</text>
<rect x="580.47" y="537.96" width="4.45" height="4.88"/>
<text transform="translate(595 543.1) scale(0.93 1)" font-size="7.8" font-weight="bold" textLength="53.55" lengthAdjust="spacing">KO143 (1 <tspan font-weight="normal" class="mu">µ</tspan>M )</text>
<path d="M582.7 553.93L585.19 559.23L580.21 559.23Z"/>
<text transform="translate(595 559.7) scale(0.93 1)" font-size="7.8" font-weight="bold" textLength="53.55" lengthAdjust="spacing">KO143 (5 <tspan font-weight="normal" class="mu">µ</tspan>M )</text>
</svg>
</body></html>
